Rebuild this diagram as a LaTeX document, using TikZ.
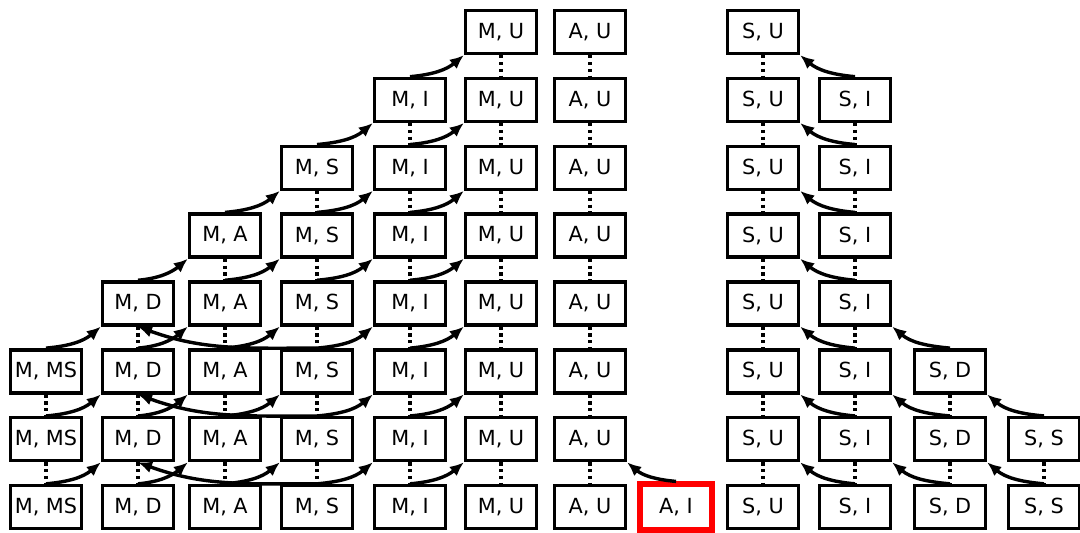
\documentclass[tikz,border=0pt]{standalone}
\usepackage{fontspec}
\setmainfont{DejaVu Sans}
\usetikzlibrary{arrows.meta}

\begin{document}
\begin{tikzpicture}[x=0.5pt,y=0.5pt,
  state/.style={draw,line width=1.7pt,minimum width=35.5pt,minimum height=21.5pt,inner sep=0pt,font=\fontsize{10.4}{12}\selectfont},
  dotlink/.style={line width=1.7pt,dash pattern=on 1.6pt off 1.8pt},
  move/.style={line width=1.7pt,-{Latex[length=7pt,width=6pt]}}]
\useasboundingbox (0,0) rectangle (1080,532);
% columns of states: name/x/first row/label
\foreach \nm/\cx/\first/\lab in {mms/46/5/{M, MS},md/138/4/{M, D},ma/225/3/{M, A},ms/317/2/{M, S},mi/410/1/{M, I},mu/501/0/{M, U},au/590/0/{A, U},su/763/0/{S, U},si/855/1/{S, I},sd/950/5/{S, D},ss/1044/6/{S, S}}{
  \foreach \r in {\first,...,7}{
    \node[state] (\nm\r) at (\cx,{500-67.86*\r}) {\lab};
  }
  \foreach \r in {\first,...,6}{
    \pgfmathtruncatemacro\s{\r+1}
    \draw[dotlink] (\nm\r) -- (\nm\s);
  }
}
% the start state
\node[state,draw=red,line width=2.6pt,minimum width=36pt,minimum height=23pt] (ai) at (676,25) {A, I};
% forward moves on the left
\foreach \src/\tgt/\first in {mms/md/5,md/ma/4,ma/ms/3,ms/mi/2,mi/mu/1}{
  \foreach \r in {\first,...,7}{
    \pgfmathtruncatemacro\s{\r-1}
    \draw[move] (\src\r.north) to[out=5,in=-140] (\tgt\s.south west);
  }
}
% long moves back
\foreach \r in {5,6,7}{
  \pgfmathtruncatemacro\s{\r-1}
  \draw[move] (ms\r.north) to[out=180,in=-20] (md\s.south);
}
% backward moves on the right
\foreach \src/\tgt/\first in {si/su/1,sd/si/5,ss/sd/6}{
  \foreach \r in {\first,...,7}{
    \pgfmathtruncatemacro\s{\r-1}
    \draw[move] (\src\r.north) to[out=175,in=-40] (\tgt\s.south east);
  }
}
\draw[move] (ai.north) to[out=175,in=-40] (au6.south east);
\end{tikzpicture}
\end{document}
